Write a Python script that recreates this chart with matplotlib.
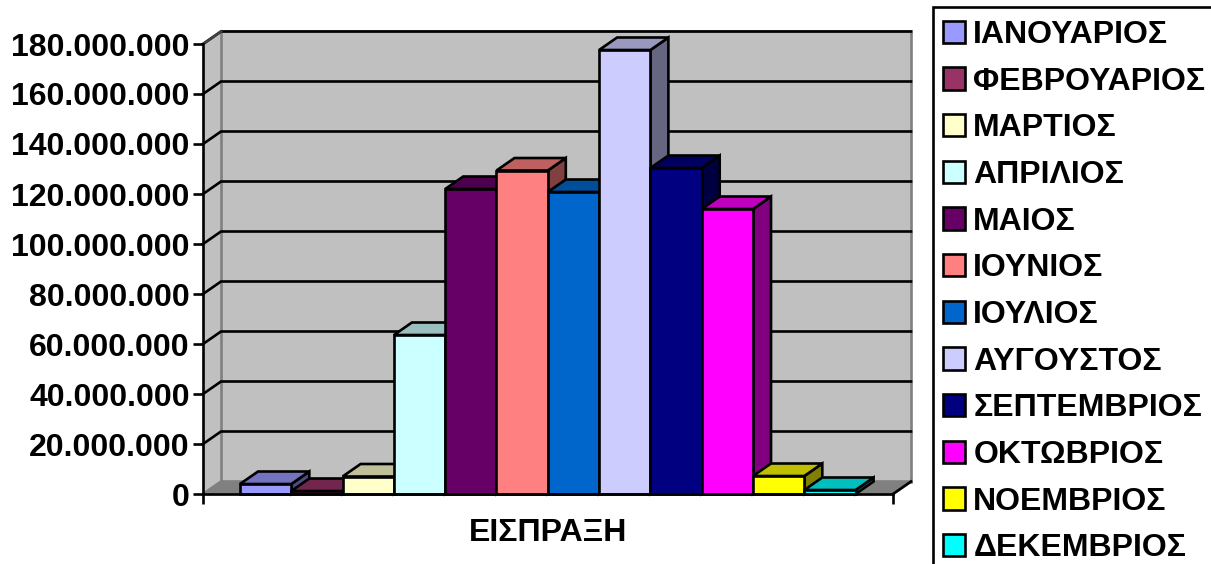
import matplotlib
matplotlib.use("Agg")
import matplotlib.pyplot as plt
from matplotlib.colors import to_rgb
from matplotlib.patches import Polygon, Rectangle

months = ['ΙΑΝΟΥΑΡΙΟΣ', 'ΦΕΒΡΟΥΑΡΙΟΣ', 'ΜΑΡΤΙΟΣ', 'ΑΠΡΙΛΙΟΣ', 'ΜΑΙΟΣ', 'ΙΟΥΝΙΟΣ',
          'ΙΟΥΛΙΟΣ', 'ΑΥΓΟΥΣΤΟΣ', 'ΣΕΠΤΕΜΒΡΙΟΣ', 'ΟΚΤΩΒΡΙΟΣ', 'ΝΟΕΜΒΡΙΟΣ', 'ΔΕΚΕΜΒΡΙΟΣ']
receipts = [4.0e6, 1.2e6, 7.0e6, 63.6e6, 122e6, 129.4e6,
            120.8e6, 177.6e6, 130.4e6, 114e6, 7.2e6, 1.6e6]
colors = ['#9999FF', '#993366', '#FFFFCC', '#CCFFFF', '#660066', '#FF8080',
          '#0066CC', '#CCCCFF', '#000080', '#FF00FF', '#FFFF00', '#00FFFF']
y_ticks = [0, 20e6, 40e6, 60e6, 80e6, 100e6, 120e6, 140e6, 160e6, 180e6]
y_labels = ['0', '20.000.000', '40.000.000', '60.000.000', '80.000.000', '100.000.000',
            '120.000.000', '140.000.000', '160.000.000', '180.000.000']
category = 'ΕΙΣΠΡΑΞΗ'

plt.rcParams['font.family'] = ['Liberation Sans', 'DejaVu Sans']
plt.rcParams['font.weight'] = 'bold'

W, H = 1211, 564
LW = 1.9  # about 2.5 px

fig = plt.figure(figsize=(W / 100, H / 100), dpi=100)
# front plane of the fake 3d box, in pixels
left, right, top, bottom = 203, 893, 44, 494
ax = fig.add_axes([left / W, 1 - bottom / H, (right - left) / W, (bottom - top) / H])

bar_w_px = 51.3
first_bar_px = 240
ax.set_xlim((left - first_bar_px) / bar_w_px - 0.5, (right - first_bar_px) / bar_w_px - 0.5)
ax.set_ylim(0, 180e6)
x0, x1 = ax.get_xlim()
y1 = ax.get_ylim()[1]

# depth offset, in data units (18 px across, 12.5 px up)
dx = 18 / bar_w_px
dy = 12.5 / ((bottom - top) / y1)


def shade(c, f):
    return tuple(v * f for v in to_rgb(c))


def face(pts, fc, ec, z, lw=LW):
    ax.add_patch(Polygon(pts, closed=True, fc=fc, ec=ec, lw=lw, zorder=z,
                         clip_on=False, joinstyle='miter'))


# walls and floor
face([(x0, 0), (x0 + dx, dy), (x0 + dx, y1 + dy), (x0, y1)], '#C0C0C0', 'none', 0.5)
face([(x0 + dx, dy), (x1 + dx, dy), (x1 + dx, y1 + dy), (x0 + dx, y1 + dy)], '#C0C0C0', '#808080', 0.6)
face([(x0, 0), (x0 + dx, dy), (x1 + dx, dy), (x1, 0)], '#808080', '#808080', 0.7)

for t in y_ticks[1:]:
    ax.plot([x0, x0 + dx, x1 + dx], [t, t + dy, t + dy], color='black', lw=LW, zorder=0.8,
            clip_on=False, solid_joinstyle='miter')
ax.plot([x0, x0 + dx], [y1, y1 + dy], color='#404040', lw=LW, zorder=0.9, clip_on=False)
ax.plot([x1, x1 + dx], [0, dy], color='black', lw=LW, zorder=0.9, clip_on=False)

# bars, left to right so later ones cover the side of earlier ones
for i, (name, val, c) in enumerate(zip(months, receipts, colors)):
    z = 2 + i * 0.1
    l, r = i - 0.5, i + 0.5
    face([(r, 0), (r + dx, dy), (r + dx, val + dy), (r, val)], shade(c, 0.5), 'black', z)
    face([(l, val), (l + dx, val + dy), (r + dx, val + dy), (r, val)], shade(c, 0.75), 'black', z)
    ax.bar(i, val, width=1, color=c, edgecolor='black', linewidth=LW, label=name,
           zorder=z + 0.05, clip_on=False)

for s in ['top', 'right']:
    ax.spines[s].set_visible(False)
for s in ['left', 'bottom']:
    ax.spines[s].set_linewidth(LW)
    ax.spines[s].set_zorder(5)

ax.set_yticks(y_ticks)
ax.set_yticklabels(y_labels, fontsize=23, fontweight='bold')
ax.set_xticks([x0, x1])
ax.set_xticklabels(['', ''])
ax.tick_params(axis='both', length=7.5, width=LW, direction='out', pad=2)
ax.set_xlabel(category, fontsize=23, fontweight='bold', labelpad=8, x=(548 - left) / (right - left))

# legend frame runs off the right and bottom of the picture, as in the original
fig.add_artist(Rectangle((933 / W, -0.1), 0.4, 1.1 - 7 / H, transform=fig.transFigure,
                         fc='none', ec='black', lw=LW, zorder=-1))
leg = ax.legend(loc='upper left', bbox_to_anchor=(933 / W, 1 - 10 / H),
                bbox_transform=fig.transFigure, borderaxespad=0,
                frameon=False, handlelength=0.7, handleheight=0.7, handletextpad=0.25,
                borderpad=0.31, labelspacing=0.522, prop={'weight': 'bold', 'size': 23})
leg.set_zorder(10)

fig.savefig('out.png', dpi=100)
